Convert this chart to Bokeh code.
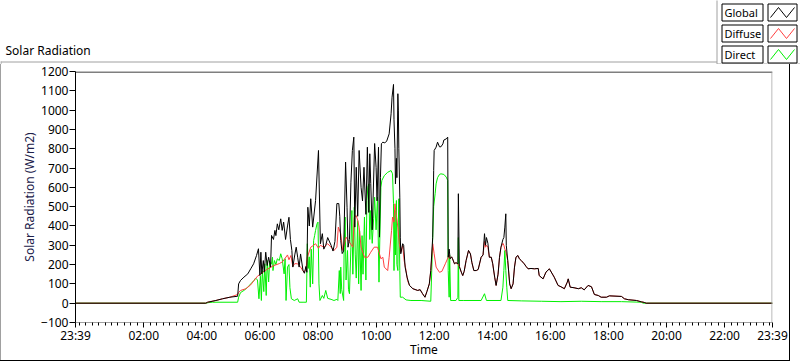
from bokeh.plotting import figure
from bokeh.models import Range1d, FixedTicker, BoxAnnotation, Div
from bokeh.layouts import column, row
from bokeh.core.properties import value
from bokeh.embed import file_html
from bokeh.resources import INLINE

FONT = "Noto Sans"

# time = minutes after midnight (axis runs from 23:39 of the previous day to 23:39)
global_time = [
    -21, 248, 252, 269, 283, 298, 314, 316, 320, 327,
    335, 341, 347, 353, 357, 360, 362, 364, 367, 369,
    372, 375, 378, 382, 384, 388, 391, 393, 396, 399,
    403, 406, 409, 413, 417, 420, 423, 426, 428, 432,
    435, 438, 441, 444, 449, 452, 455, 457, 459, 462,
    465, 469, 475, 481, 485, 489, 492, 496, 500, 507,
    511, 515, 519, 523, 525, 527, 530, 533, 537, 540,
    542, 545, 548, 551, 554, 556, 559, 562, 565, 569,
    572, 575, 579, 582, 585, 587, 589, 592, 597, 600,
    602, 605, 607, 609, 611, 614, 618, 622, 627, 631,
    633, 636, 637, 639, 640, 642, 643, 645, 646, 647,
    649, 650, 651, 655, 657, 660, 664, 669, 676, 686,
    691, 696, 701, 705, 710, 713, 717, 719, 720, 724,
    727, 731, 734, 738, 740, 745, 748, 749, 751, 753,
    756, 758, 762, 765, 769, 770, 772, 776, 779, 782,
    786, 791, 795, 798, 802, 807, 811, 817, 821, 824,
    826, 828, 831, 834, 838, 841, 845, 848, 852, 855,
    858, 862, 864, 866, 868, 869, 872, 876, 879, 883,
    886, 889, 893, 896, 900, 906, 910, 914, 920, 927,
    935, 937, 945, 951, 958, 968, 976, 982, 989, 995,
    997, 1001, 1009, 1018, 1024, 1030, 1038, 1045, 1051, 1059,
    1065, 1076, 1082, 1107, 1113, 1121, 1138, 1148, 1154, 1158,
    1419,
]
global_wm2 = [
    0, 0, 5, 14, 23, 31, 36, 100, 118, 135,
    152, 178, 204, 247, 282, 143, 264, 152, 221, 161,
    264, 195, 238, 187, 351, 330, 377, 350, 411, 380,
    437, 377, 420, 330, 400, 445, 330, 273, 187, 250,
    290, 238, 187, 255, 170, 155, 190, 160, 497, 400,
    541, 394, 532, 791, 308, 360, 280, 300, 340, 300,
    270, 320, 516, 516, 450, 325, 257, 270, 731, 497,
    290, 330, 627, 791, 860, 394, 704, 450, 791, 600,
    530, 704, 460, 808, 470, 774, 620, 380, 827, 704,
    530, 808, 342, 650, 826, 834, 830, 840, 877, 981,
    1067, 1133, 950, 800, 618, 750, 650, 1085, 1000, 800,
    549, 342, 256, 308, 300, 187, 135, 92, 75, 66,
    70, 49, 31, 60, 100, 169, 342, 687, 791, 808,
    834, 810, 810, 825, 845, 851, 860, 238, 280, 230,
    240, 230, 204, 210, 204, 567, 190, 161, 143, 165,
    221, 273, 255, 210, 169, 169, 175, 238, 250, 360,
    300, 340, 310, 238, 238, 204, 135, 92, 150, 238,
    290, 330, 340, 394, 463, 300, 221, 100, 75, 100,
    187, 238, 247, 230, 221, 204, 190, 178, 180, 178,
    180, 143, 126, 161, 178, 135, 92, 85, 75, 109,
    126, 83, 80, 75, 80, 69, 92, 85, 45, 40,
    31, 31, 38, 35, 23, 18, 14, 7, 4, 0,
    0,
]

diffuse_time = [
    -21, 248, 252, 269, 283, 298, 314, 316, 320, 331,
    341, 347, 355, 365, 375, 389, 400, 407, 417, 420,
    424, 428, 432, 438, 444, 451, 455, 458, 465, 471,
    475, 481, 485, 492, 500, 507, 513, 519, 522, 527,
    531, 538, 544, 552, 555, 559, 562, 565, 569, 576,
    583, 589, 596, 603, 610, 614, 617, 624, 627, 632,
    634, 637, 639, 642, 645, 648, 651, 655, 658, 662,
    665, 669, 676, 686, 691, 696, 701, 705, 710, 713,
    717, 720, 724, 731, 736, 743, 749, 751, 753, 756,
    758, 762, 765, 769, 772, 776, 779, 782, 786, 791,
    795, 798, 802, 807, 811, 817, 821, 824, 826, 828,
    831, 834, 838, 841, 845, 848, 852, 855, 858, 862,
    864, 866, 868, 872, 876, 879, 883, 886, 889, 893,
    896, 900, 906, 910, 914, 920, 927, 935, 937, 945,
    951, 958, 968, 976, 982, 989, 995, 997, 1001, 1009,
    1018, 1024, 1030, 1038, 1045, 1051, 1059, 1065, 1076, 1082,
    1107, 1113, 1121, 1138, 1148, 1154, 1158, 1419,
]
diffuse_wm2 = [
    0, 0, 5, 14, 23, 31, 45, 55, 66, 75,
    95, 115, 140, 158, 176, 195, 205, 215, 250, 225,
    247, 190, 205, 204, 187, 160, 175, 238, 290, 300,
    308, 285, 300, 290, 308, 290, 273, 290, 394, 360,
    273, 342, 320, 290, 446, 454, 430, 394, 290, 238,
    238, 264, 290, 290, 230, 238, 187, 169, 238, 377,
    446, 420, 515, 450, 394, 308, 264, 299, 221, 169,
    117, 92, 75, 66, 70, 49, 31, 60, 100, 169,
    308, 256, 187, 160, 165, 204, 238, 250, 230, 240,
    230, 204, 210, 204, 190, 161, 143, 165, 221, 273,
    255, 210, 169, 169, 175, 238, 250, 320, 290, 300,
    290, 238, 238, 204, 135, 92, 150, 238, 290, 310,
    300, 280, 270, 221, 100, 75, 100, 187, 238, 247,
    230, 221, 204, 190, 178, 180, 178, 180, 143, 126,
    161, 178, 135, 92, 85, 75, 109, 126, 83, 80,
    75, 80, 69, 92, 85, 45, 40, 31, 31, 38,
    35, 23, 18, 14, 7, 4, 0, 0,
]

direct_time = [
    -21, 248, 254, 262, 314, 316, 320, 327, 335, 341,
    348, 351, 355, 358, 361, 363, 365, 368, 370, 373,
    375, 378, 380, 384, 386, 387, 390, 393, 396, 400,
    403, 406, 410, 412, 414, 417, 420, 422, 425, 431,
    438, 441, 451, 456, 458, 460, 462, 464, 466, 469,
    471, 473, 475, 478, 480, 482, 484, 489, 492, 496,
    500, 507, 513, 519, 521, 524, 526, 527, 529, 533,
    534, 536, 538, 541, 543, 545, 548, 550, 552, 555,
    557, 559, 562, 564, 566, 569, 571, 573, 576, 579,
    581, 583, 585, 587, 589, 592, 595, 597, 600, 603,
    606, 607, 610, 612, 617, 624, 631, 634, 636, 637,
    639, 640, 642, 643, 645, 646, 647, 649, 650, 655,
    662, 672, 693, 713, 715, 717, 719, 722, 724, 727,
    731, 734, 740, 745, 748, 749, 751, 752, 754, 757,
    765, 769, 770, 771, 780, 817, 824, 828, 858, 862,
    864, 866, 868, 870, 872, 900, 942, 982, 1024, 1065,
    1107, 1148, 1152, 1419,
]
direct_wm2 = [
    0, 0, 3, 5, 5, 31, 55, 66, 83, 100,
    118, 130, 120, 23, 140, 14, 169, 60, 204, 40,
    221, 110, 212, 204, 238, 169, 221, 200, 230, 221,
    256, 230, 152, 230, 14, 187, 200, 80, 23, 14,
    23, 5, 5, 5, 308, 180, 240, 83, 280, 100,
    325, 350, 377, 411, 420, 100, 14, 40, 25, 66,
    25, 20, 14, 20, 14, 169, 50, 187, 70, 14,
    290, 446, 120, 273, 70, 49, 290, 480, 150, 497,
    250, 130, 428, 100, 375, 66, 350, 150, 446, 120,
    532, 601, 618, 330, 480, 310, 440, 549, 380, 549,
    109, 250, 601, 636, 661, 678, 687, 670, 515, 169,
    480, 250, 532, 200, 169, 420, 541, 169, 31, 31,
    17, 14, 14, 10, 169, 342, 500, 567, 618, 650,
    667, 670, 667, 653, 636, 169, 31, 250, 14, 14,
    14, 30, 340, 14, 14, 14, 49, 14, 14, 83,
    169, 273, 169, 83, 14, 12, 10, 8, 10, 8,
    8, 5, 0, 0,
]

x_tick_minutes = [-21, 120, 240, 360, 480, 600, 720, 840, 960, 1080, 1200, 1320, 1419]
x_tick_labels = ["23:39", "02:00", "04:00", "06:00", "08:00", "10:00", "12:00",
                 "14:00", "16:00", "18:00", "20:00", "22:00", "23:39"]
y_ticks = [-100, 0, 100, 200, 300, 400, 500, 600, 700, 800, 900, 1000, 1100, 1200]

panel_title = "Solar Radiation"
series_names = ["Global", "Diffuse", "Direct"]
series_colors = ["#000000", "#ff3f3f", "#00f000"]

GRAY = "#a0a0a0"
HDR_H = 64          # header strip (caption + legend) height in px
MAIN_H = 360 - HDR_H

# ---------------- main graph ----------------
p = figure(width=788, height=MAIN_H, output_backend="svg", toolbar_location=None,
           title=None,
           x_range=Range1d(-21, 1419), y_range=Range1d(-100, 1200),
           min_border_left=74, min_border_right=17, min_border_top=71 - HDR_H,
           min_border_bottom=38,
           background_fill_color="white", border_fill_color="white")
p.xgrid.visible = False
p.ygrid.visible = False
p.outline_line_color = None

# draw order: Direct, Diffuse, Global on top
p.line(direct_time, direct_wm2, line_color=series_colors[2], line_width=1)
p.line(diffuse_time, diffuse_wm2, line_color=series_colors[1], line_width=1)
p.line(global_time, global_wm2, line_color=series_colors[0], line_width=1)

# frame edges: black top, grey right (1 px bands inside the frame)
p.add_layout(BoxAnnotation(left=-21, right=1419, top=1200, bottom=1195,
                           fill_color="black", fill_alpha=1, line_alpha=0))
p.add_layout(BoxAnnotation(left=1417, right=1419, top=1200, bottom=-100,
                           fill_color=GRAY, fill_alpha=1, line_alpha=0))

minor = []
for k in range(-12, 120):
    m = 120 + k * 120 / 9
    if -21 < m < 1419 and not (k % 9 == 0 and k >= 0):
        minor.append(m)

xa = p.xaxis[0]
xa.ticker = FixedTicker(ticks=x_tick_minutes, minor_ticks=minor)
xa.major_label_overrides = {t: l for t, l in zip(x_tick_minutes, x_tick_labels)}
xa.axis_label = "Time"
xa.axis_line_color = GRAY
xa.major_tick_line_color = "black"
xa.minor_tick_line_color = "black"
xa.major_tick_out = 5
xa.major_tick_in = 0
xa.minor_tick_out = 3
xa.minor_tick_in = 0
xa.major_label_standoff = -1
xa.axis_label_standoff = -6
xa.major_label_text_font = FONT
xa.major_label_text_font_size = "12px"
xa.major_label_text_color = "black"
xa.axis_label_text_font = FONT
xa.axis_label_text_font_size = "12px"
xa.axis_label_text_font_style = "normal"
xa.axis_label_text_color = "black"

ya = p.yaxis[0]
ya.ticker = FixedTicker(ticks=y_ticks, minor_ticks=[])
ya.axis_label = "Solar Radiation (W/m2)"
ya.axis_line_color = "black"
ya.major_tick_line_color = "black"
ya.major_tick_out = 6
ya.major_tick_in = 0
ya.minor_tick_out = 0
ya.minor_tick_in = 0
ya.major_label_standoff = 1
ya.axis_label_standoff = 0
ya.major_label_text_font = FONT
ya.major_label_text_font_size = "12px"
ya.major_label_text_color = "black"
ya.axis_label_text_font = FONT
ya.axis_label_text_font_size = "12px"
ya.axis_label_text_font_style = "normal"
ya.axis_label_text_color = "#20204a"

# ---------------- header: panel caption + legend ----------------
hdr = figure(width=800, height=HDR_H, output_backend="svg", toolbar_location=None,
             title=None, x_range=Range1d(0, 800), y_range=Range1d(HDR_H, 0),
             x_axis_location=None, y_axis_location=None, min_border=0,
             background_fill_color="white", border_fill_color="white")
hdr.grid.visible = False
hdr.outline_line_color = None

hdr.text(x=[5], y=[50], text=[panel_title], text_font=value(FONT),
         text_font_size=value("12px"), text_color="black",
         text_baseline="middle", text_align="left")
# outer panel frame (top-left part)
hdr.segment(x0=[0, 0.5], y0=[61.5, 61], x1=[717, 0.5], y1=[61.5, HDR_H], line_color=GRAY, line_width=1)

# legend panel
hdr.quad(left=[716.5], right=[810], top=[-5], bottom=[HDR_H - 0.5], fill_color="white", line_color=GRAY)
rows_top = [3.5 + 21 * i for i in range(len(series_names))]
rows_bottom = [t + 17 for t in rows_top]
hdr.quad(left=[721.5] * 3, right=[762.5] * 3, top=rows_top, bottom=rows_bottom,
         fill_color="white", line_color="black")
hdr.quad(left=[767.5] * 3, right=[796.5] * 3, top=rows_top, bottom=rows_bottom,
         fill_color="white", line_color="black")
hdr.text(x=[724] * 3, y=[t + 8.5 for t in rows_top], text=series_names, text_font=value(FONT),
         text_font_size=value("11px"), text_color="black",
         text_baseline="middle", text_align="left")
for t, c in zip(rows_top, series_colors):
    hdr.line(x=[770, 778, 786, 794], y=[t + 13.5, t + 3.5, t + 13.5, t + 3.5],
             line_color=c, line_width=1)

# outer panel edges left / right / bottom
left_edge = Div(text="", width=1, height=MAIN_H, margin=0, styles={"background-color": GRAY})
right_edge = Div(text="", width=1, height=MAIN_H, margin=0, styles={"background-color": "#000000"})
bottom_edge = Div(text="", width=790, height=1, margin=0, styles={"background-color": "#000000"})

layout = column(hdr, row(left_edge, p, right_edge, spacing=0), bottom_edge, spacing=0)

open("out.html", "w").write(file_html(layout, INLINE))
